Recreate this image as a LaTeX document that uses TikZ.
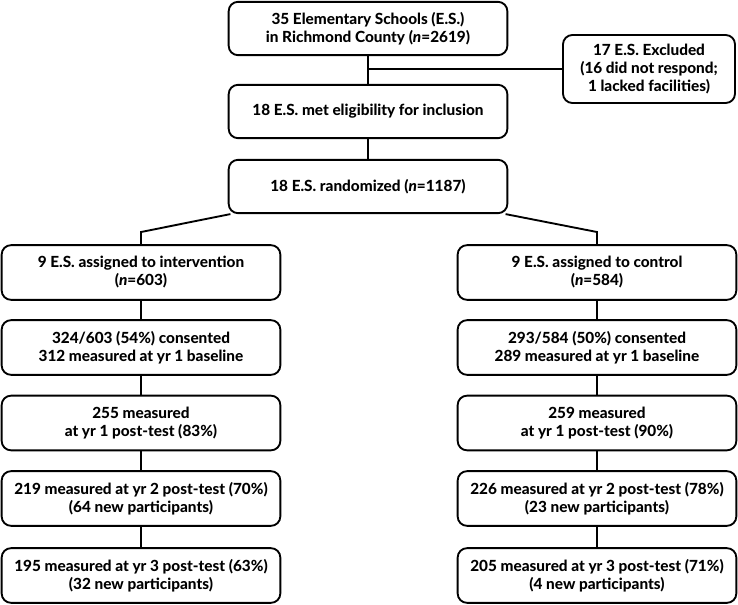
\documentclass[tikz,border=0pt]{standalone}
\usepackage{fontspec}
\setmainfont{Lato}[BoldFont={Lato Heavy},BoldItalicFont={Lato Heavy Italic}]

\begin{document}
\begin{tikzpicture}[x=0.75pt,y=-0.75pt,
	flowbox/.style={draw, line width=1.4pt, fill=white,
			rounded corners=7pt,
			align=center, inner sep=0pt,
			font=\bfseries\fontsize{11.5}{13.5}\selectfont,
			minimum width=209pt,
			minimum height=41pt},
	link/.style={line width=1.4pt}]

\pgfmathsetmacro{\midx}{368}
\pgfmathsetmacro{\lx}{141}
\pgfmathsetmacro{\rx}{597}

\useasboundingbox (0,0) rectangle (738,604);

% NODES

\node(schools)[flowbox, minimum height=40pt] at (\midx,28.5)
	{35 Elementary Schools (E.S.)\\in Richmond County (\textit{n}=2619)};
\node(elig)[flowbox, minimum height=40pt] at (\midx,111.5)
	{18 E.S. met eligibility for inclusion};
\node(rand)[flowbox, minimum height=40pt] at (\midx,186.5)
	{18 E.S. randomized (\textit{n}=1187)};

\node(excl)[flowbox, minimum width=129pt, minimum height=51pt] at (649,69)
	{17 E.S. Excluded\\(16 did not respond;\\1 lacked facilities)};

% intervention arm
\node(intv)[flowbox] at (\lx,272.5)
	{9 E.S. assigned to intervention\\(\textit{n}=603)};
\node(consI)[flowbox] at (\lx,347.5)
	{324/603 (54\%) consented\\312 measured at yr 1 baseline};
\node(postI)[flowbox] at (\lx,423)
	{255 measured\\at yr 1 post-test (83\%)};
\node(yrtwoI)[flowbox] at (\lx,498.5)
	{219 measured at yr 2 post-test (70\%)\\(64 new participants)};
\node(yrthreeI)[flowbox] at (\lx,575.5)
	{195 measured at yr 3 post-test (63\%)\\(32 new participants)};

% control arm
\node(ctrl)[flowbox] at (\rx,272.5)
	{9 E.S. assigned to control\\(\textit{n}=584)};
\node(consC)[flowbox] at (\rx,347.5)
	{293/584 (50\%) consented\\289 measured at yr 1 baseline};
\node(postC)[flowbox] at (\rx,423)
	{259 measured\\at yr 1 post-test (90\%)};
\node(yrtwoC)[flowbox] at (\rx,498.5)
	{226 measured at yr 2 post-test (78\%)\\(23 new participants)};
\node(yrthreeC)[flowbox] at (\rx,575.5)
	{205 measured at yr 3 post-test (71\%)\\(4 new participants)};

\coordinate(branch) at (\midx,69);
\coordinate(lbend) at (\lx,232);
\coordinate(rbend) at (\rx,232);

% LINKS

\draw[link] (schools) -- (elig);
\draw[link] (branch) -- (excl);
\draw[link] (elig) -- (rand);

\draw[link] ([xshift=2pt]rand.south west) -- (lbend) -- (intv);
\draw[link] ([xshift=-2pt]rand.south east) -- (rbend) -- (ctrl);

\draw[link] (intv) -- (consI);
\draw[link] (consI) -- (postI);
\draw[link] (postI) -- (yrtwoI);
\draw[link] (yrtwoI) -- (yrthreeI);

\draw[link] (ctrl) -- (consC);
\draw[link] (consC) -- (postC);
\draw[link] (postC) -- (yrtwoC);
\draw[link] (yrtwoC) -- (yrthreeC);

\end{tikzpicture}
\end{document}
